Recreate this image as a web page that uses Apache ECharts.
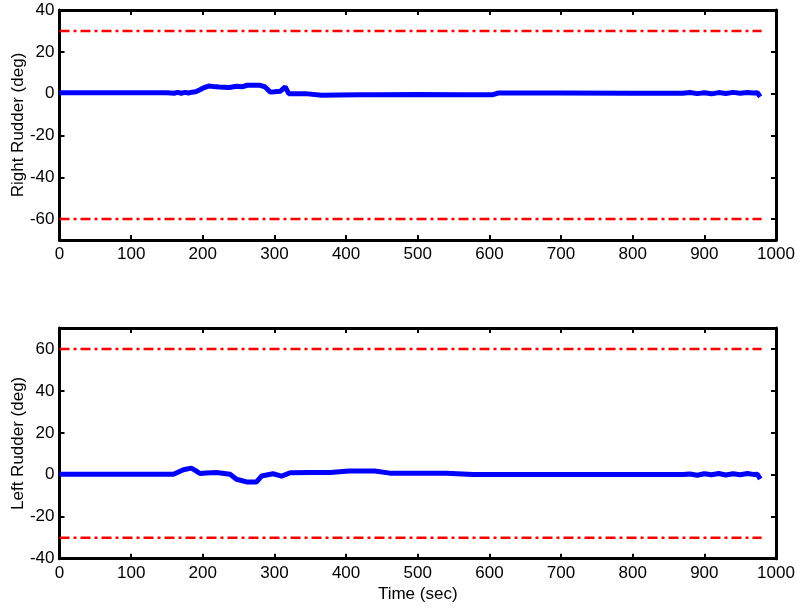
<!DOCTYPE html>
<html>
<head>
<meta charset="utf-8">
<script src="https://cdn.jsdelivr.net/npm/echarts@6/dist/echarts.min.js"></script>
<style>html,body{margin:0;padding:0;background:#fff;}#c{width:797px;height:609px;}</style>
</head>
<body>
<div id="c"></div>
<script>
// ---- data ----
var xTicks = [0,100,200,300,400,500,600,700,800,900,1000];
var topYTicks = [-60,-40,-20,0,20,40];
var bottomYTicks = [-40,-20,0,20,40,60];

var topTime = [0,150,160,165,170,175,180,185,190,196,200,208,215,223,237,247,255,262,270,280,287,294,300,308,315,320,330,343,366,389,420,446,500,560,605,612,700,800,870,880,890,900,910,920,930,940,950,960,968,974,978];
var topValues = [0.4,0.4,0.2,0.6,0.2,0.6,0.3,0.7,0.9,1.9,2.6,3.6,3.4,3.2,2.9,3.5,3.3,4.0,4.0,4.0,3.2,0.8,0.9,1.1,3.2,0.0,0.0,0.0,-0.8,-0.6,-0.5,-0.5,-0.4,-0.5,-0.5,0.3,0.3,0.2,0.2,0.5,0.0,0.4,-0.1,0.5,0.1,0.6,0.2,0.5,0.3,0.4,-1.5];

var bottomTime = [0,159,173,184,190,196,205,219,238,247,261,275,282,298,310,322,350,378,404,440,461,500,540,577,600,700,800,870,880,890,900,910,920,930,940,950,960,968,974,978];
var bottomValues = [0.3,0.3,2.4,3.2,2.0,0.6,0.9,1.1,0.3,-2.1,-3.4,-3.4,-0.6,0.5,-0.6,1.0,1.1,1.1,1.8,1.8,0.8,0.8,0.8,0.1,0.1,0.1,0.1,0.1,0.4,-0.2,0.5,0.0,0.6,-0.1,0.5,0.0,0.6,0.2,0.3,-2.0];

var topLimits = [30, -60];
var bottomLimits = [60, -30];
var limitStart = 0, limitEnd = 980;

// ---- build ----
function pairs(t, v){ return t.map(function(x,i){return [x, v[i]];}); }
var FONT = '"Liberation Sans", Arial, sans-serif';
function plain(v){ return String(v); }

function xAxes(gi, name){
  var base = {
    gridIndex: gi, type: 'value', min: 0, max: 1000, interval: 100,
    axisLine: {show: true, onZero: false, lineStyle: {color: '#000', width: 3}},
    axisTick: {show: true, inside: true, length: 5, customValues: xTicks, lineStyle: {color: '#000', width: 2}},
    splitLine: {show: false}
  };
  var b = Object.assign({}, base, {
    position: 'bottom',
    axisLabel: {show: true, customValues: xTicks, formatter: plain, color: '#000', fontSize: 17, fontFamily: FONT, margin: 6},
    name: name || '', nameLocation: 'middle', nameGap: 27,
    nameTextStyle: {color: '#000', fontSize: 17, fontFamily: FONT}
  });
  var t = Object.assign({}, base, {position: 'top', axisLabel: {show: false}});
  return [b, t];
}
function yAxes(gi, mn, mx, ticks, name){
  var base = {
    gridIndex: gi, type: 'value', min: mn, max: mx,
    axisLine: {show: true, onZero: false, lineStyle: {color: '#000', width: 3}},
    axisTick: {show: true, inside: true, length: 5, customValues: ticks, lineStyle: {color: '#000', width: 2}},
    splitLine: {show: false}
  };
  var l = Object.assign({}, base, {
    position: 'left',
    axisLabel: {show: true, customValues: ticks, formatter: plain, color: '#000', fontSize: 17, fontFamily: FONT, margin: 5},
    name: name, nameLocation: 'middle', nameGap: 33, nameMoveOverlap: false,
    nameTextStyle: {color: '#000', fontSize: 17, fontFamily: FONT}
  });
  var r = Object.assign({}, base, {position: 'right', axisLabel: {show: false}});
  return [l, r];
}
function dataLine(xi, yi, t, v){
  return {type: 'line', xAxisIndex: xi, yAxisIndex: yi, data: pairs(t, v), showSymbol: false, symbol: 'none',
    lineStyle: {color: '#0000FF', width: 5}, animation: false, z: 3};
}
function limitLine(xi, yi, val){
  return {type: 'line', xAxisIndex: xi, yAxisIndex: yi, data: [[limitStart, val],[limitEnd, val]], symbol: 'none',
    lineStyle: {color: '#FF0000', width: 2.5, type: [10,4,3,4]}, animation: false, z: 2};
}

var option = {
  backgroundColor: '#fff',
  animation: false,
  grid: [
    {left: 59.5, right: 21, top: 10, height: 230, containLabel: false, outerBoundsMode: 'none'},
    {left: 59.5, right: 21, top: 328, height: 230.7, containLabel: false, outerBoundsMode: 'none'}
  ],
  xAxis: xAxes(0).concat(xAxes(1, 'Time (sec)')),
  yAxis: yAxes(0, -70, 40, topYTicks, 'Right Rudder (deg)').concat(yAxes(1, -40, 70, bottomYTicks, 'Left Rudder (deg)')),
  series: [
    limitLine(0, 0, topLimits[0]), limitLine(0, 0, topLimits[1]),
    dataLine(0, 0, topTime, topValues),
    limitLine(2, 2, bottomLimits[0]), limitLine(2, 2, bottomLimits[1]),
    dataLine(2, 2, bottomTime, bottomValues)
  ]
};
var chart = echarts.init(document.getElementById('c'), null, {renderer: 'canvas'});
chart.setOption(option);
</script>
</body>
</html>
